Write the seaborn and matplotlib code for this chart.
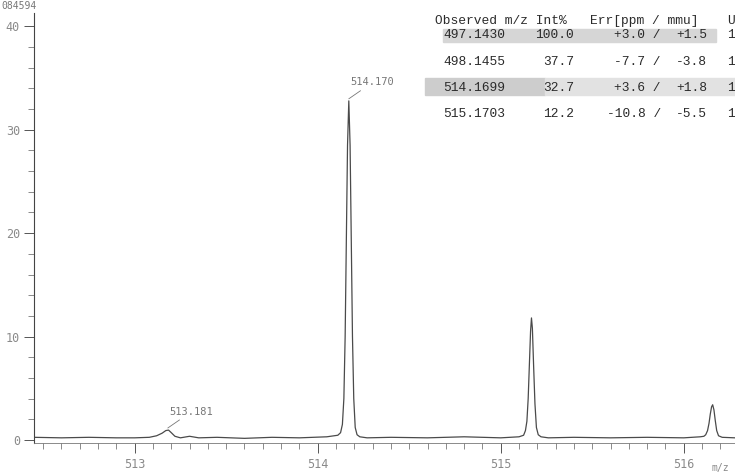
import numpy as np
import pandas as pd
import matplotlib
matplotlib.use("Agg")
import matplotlib.pyplot as plt
from matplotlib.patches import Rectangle
import seaborn as sns

# spectrum trace (m/z, intensity)
mz = [512.45, 512.60, 512.75, 512.90, 513.00, 513.08, 513.12, 513.15, 513.17, 513.185,
      513.20, 513.22, 513.25, 513.30, 513.35, 513.45, 513.60, 513.75, 513.90, 514.05,
      514.11, 514.125, 514.135, 514.143, 514.150, 514.157, 514.163, 514.170, 514.177,
      514.183, 514.190, 514.197, 514.205, 514.215, 514.23, 514.27, 514.40, 514.60,
      514.80, 515.00, 515.10, 515.125, 515.135, 515.143, 515.150, 515.157, 515.163,
      515.168, 515.173, 515.180, 515.187, 515.195, 515.205, 515.22, 515.26, 515.40,
      515.60, 515.80, 516.00, 516.09, 516.11, 516.12, 516.13, 516.138, 516.145,
      516.152, 516.158, 516.165, 516.172, 516.18, 516.19, 516.21, 516.28]
inten = [0.25, 0.2, 0.25, 0.2, 0.2, 0.25, 0.4, 0.65, 0.9, 0.95,
         0.7, 0.35, 0.2, 0.35, 0.2, 0.25, 0.15, 0.25, 0.2, 0.3,
         0.45, 0.7, 1.5, 4.0, 10.0, 20.0, 28.5, 32.8, 28.5,
         20.0, 10.0, 4.0, 1.2, 0.5, 0.3, 0.2, 0.25, 0.2,
         0.3, 0.2, 0.3, 0.45, 0.9, 1.8, 4.0, 7.5, 10.5,
         11.8, 10.8, 7.0, 3.5, 1.2, 0.5, 0.3, 0.2, 0.25,
         0.2, 0.25, 0.2, 0.3, 0.35, 0.5, 0.9, 1.6, 2.5,
         3.2, 3.4, 2.9, 1.9, 0.9, 0.4, 0.25, 0.2]

peak_mz = [513.181, 514.170]
peak_int = [0.95, 32.8]

# results table
obs_mz = [497.1430, 498.1455, 514.1699, 515.1703]
int_pct = [100.0, 37.7, 32.7, 12.2]
err_ppm = [3.0, -7.7, 3.6, -10.8]
err_mmu = [1.5, -3.8, 1.8, -5.5]

df = pd.DataFrame({"mz": mz, "int": inten})

sns.set_style("ticks")
plt.rcParams["font.family"] = ["DejaVu Sans Mono", "DejaVu Sans"]

W, H = 735, 476
fig = plt.figure(figsize=(7.35, 4.76), dpi=100)
ax = fig.add_axes([34 / W, (H - 443) / H, 1 - 34 / W, (443 - 13) / H])

sns.lineplot(data=df, x="mz", y="int", ax=ax, color="#4a4a4a", linewidth=0.9)

ax.set_xlim(512.45, 516.28)
ax.set_ylim(-0.3, 41.3)
ax.set_xticks([513, 514, 515, 516])
ax.set_xticks(np.arange(512.5, 516.3, 0.1), minor=True)
ax.set_yticks([0, 10, 20, 30, 40])
ax.set_yticklabels(["0", "10", "20", "30", "40"])
ax.set_yticks(np.arange(0, 41, 2), minor=True)
ax.tick_params(axis="both", which="major", length=7, width=0.7, color="#555555",
               labelsize=8.5, labelcolor="#8a8a8a")
ax.tick_params(axis="both", which="minor", length=4, width=0.6, color="#777777")
ax.tick_params(axis="x", which="major", pad=4)
ax.tick_params(axis="y", which="major", pad=3)
ax.set_xlabel("")
ax.set_ylabel("")
for s in ["top", "right"]:
    ax.spines[s].set_visible(False)
ax.spines["left"].set_color("#444444")
ax.spines["bottom"].set_color("#777777")
ax.spines["left"].set_linewidth(0.8)
ax.spines["bottom"].set_linewidth(0.6)

# peak labels
for m, v in zip(peak_mz, peak_int):
    ax.annotate(f"{m:.3f}", xy=(m, v + 0.2), xytext=(m + 0.01, v + 1.3),
                fontsize=7.5, color="#777777", ha="left", va="bottom",
                arrowprops=dict(arrowstyle="-", color="#777777", lw=0.6,
                                shrinkA=0, shrinkB=0))

# table
def fx(px):
    return px / W

def fy(py):
    return 1 - py / H

fig.patches.append(Rectangle((fx(443), fy(42)), fx(716) - fx(443), fy(29) - fy(42),
                             transform=fig.transFigure, color="#d6d6d6", zorder=0))
fig.patches.append(Rectangle((fx(425), fy(95)), fx(545) - fx(425), fy(78) - fy(95),
                             transform=fig.transFigure, color="#cdcdcd", zorder=0))
fig.patches.append(Rectangle((fx(545), fy(95)), fx(735) - fx(545), fy(78) - fy(95),
                             transform=fig.transFigure, color="#e2e2e2", zorder=0))

tf = dict(family="Liberation Mono", fontsize=9.3, color="#2a2a2a", va="center")
fig.text(fx(435), fy(21), "Observed m/z Int%", ha="left", **tf)
fig.text(fx(590), fy(21), "Err[ppm / mmu]", ha="left", **tf)
fig.text(fx(727), fy(21), "U", ha="left", **tf)
row_y = [35, 62, 88, 114]
for ry, m, ip, pp, mm in zip(row_y, obs_mz, int_pct, err_ppm, err_mmu):
    fig.text(fx(443), fy(ry), f"{m:.4f}", ha="left", **tf)
    fig.text(fx(574), fy(ry), f"{ip:.1f}", ha="right", **tf)
    fig.text(fx(661), fy(ry), f"{pp:+.1f} /", ha="right", **tf)
    fig.text(fx(707), fy(ry), f"{mm:+.1f}", ha="right", **tf)
    fig.text(fx(727), fy(ry), "1", ha="left", **tf)

fig.text(fx(1), fy(6), "084594", ha="left", va="center", fontsize=7, color="#777777")
fig.text(fx(712), fy(468), "m/z", ha="left", va="center", fontsize=7, color="#888888")

fig.savefig("out.png", dpi=100)
